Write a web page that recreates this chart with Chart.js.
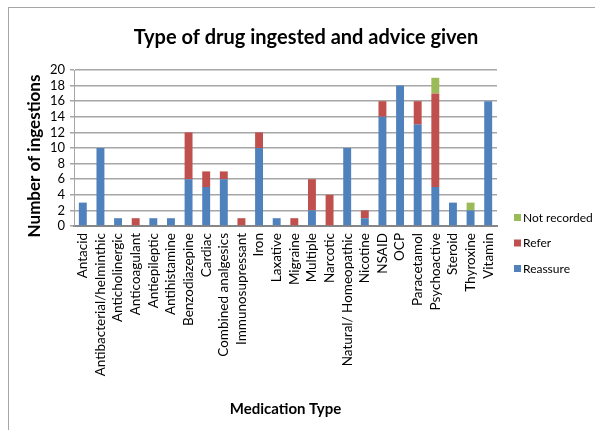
<!DOCTYPE html>
<html>
<head>
<meta charset="utf-8">
<script src="https://cdn.jsdelivr.net/npm/chart.js@4.4.0/dist/chart.umd.min.js"></script>
<style>
  html, body { margin: 0; padding: 0; background: #fff; }
  #wrap { width: 595px; height: 430px; position: relative; }
</style>
</head>
<body>
<div id="wrap"><canvas id="drugChart" width="595" height="430"></canvas></div>
<script>
const categories = [
  "Antacid", "Antibacterial/helminthic", "Anticholinergic", "Anticoagulant",
  "Antiepileptic", "Antihistamine", "Benzodiazepine", "Cardiac",
  "Combined analgesics", "Immunosupressant", "Iron", "Laxative", "Migraine",
  "Multiple", "Narcotic", "Natural/ Homeopathic", "Nicotine", "NSAID", "OCP",
  "Paracetamol", "Psychoactive", "Steroid", "Thyroxine", "Vitamin"
];
const reassure    = [3, 10, 1, 0, 1, 1, 6, 5, 6, 0, 10, 1, 0, 2, 0, 10, 1, 14, 18, 13, 5, 3, 2, 16];
const refer       = [0, 0, 0, 1, 0, 0, 6, 2, 1, 1, 2, 0, 1, 4, 4, 0, 1, 2, 0, 3, 12, 0, 0, 0];
const notRecorded = [0, 0, 0, 0, 0, 0, 0, 0, 0, 0, 0, 0, 0, 0, 0, 0, 0, 0, 0, 0, 2, 0, 1, 0];
const yTicks = [0, 2, 4, 6, 8, 10, 12, 14, 16, 18, 20];
const chartTitle = "Type of drug ingested and advice given";
const yTitle = "Number of ingestions";

const FONT = "Lato, sans-serif";

// !======= frame, titles + legend drawn on canvas =========
const framePlugin = {
  id: "frame",
  beforeDraw(chart) {
    const ctx = chart.ctx;
    ctx.save();
    ctx.strokeStyle = "#a6a6a6";
    ctx.lineWidth = 1;
    ctx.strokeRect(8.5, 7.5, 600, 440);
    ctx.restore();
  },
  afterDraw(chart) {
    const ctx = chart.ctx;
    ctx.save();
    ctx.fillStyle = "#000";
    ctx.textAlign = "center";
    ctx.textBaseline = "middle";
    ctx.font = "bold 20px " + FONT;
    ctx.fillText(chartTitle, 306, 38);

    ctx.save();
    ctx.translate(35, 156);
    ctx.rotate(-Math.PI / 2);
    ctx.font = "bold 17px " + FONT;
    ctx.fillText(yTitle, 0, 0);
    ctx.restore();

    const items = chart.data.datasets.slice().reverse();
    ctx.font = "12px " + FONT;
    ctx.textAlign = "left";
    items.forEach((ds, i) => {
      const y = 218 + i * 25.5;
      ctx.fillStyle = ds.backgroundColor;
      ctx.fillRect(514, y - 4, 7, 7);
      ctx.fillStyle = "#000";
      ctx.fillText(ds.label, 523, y);
    });
    ctx.restore();
  }
};

new Chart(document.getElementById("drugChart"), {
  type: "bar",
  data: {
    labels: categories,
    datasets: [
      { label: "Reassure", data: reassure, backgroundColor: "#4f81bd" },
      { label: "Refer", data: refer, backgroundColor: "#c0504d" },
      { label: "Not recorded", data: notRecorded, backgroundColor: "#9bbb59" }
    ]
  },
  options: {
    responsive: false,
    animation: false,
    layout: { padding: { left: 24, right: 98, top: 70, bottom: 8 } },
    datasets: { bar: { barPercentage: 0.45, categoryPercentage: 1 } },
    plugins: {
      legend: { display: false },
      tooltip: { enabled: false },
      title: { display: false }
    },
    scales: {
      x: {
        stacked: true,
        afterFit: (s) => { s.height = 196; },
        grid: { display: false, drawTicks: false },
        border: { color: "#868686", width: 2 },
        ticks: {
          color: "#000",
          font: { family: FONT, size: 13.5 },
          minRotation: 90,
          maxRotation: 90,
          autoSkip: false,
          padding: 7
        },
        title: {
          display: true,
          text: "Medication Type",
          color: "#000",
          font: { family: FONT, size: 15, weight: "bold" },
          padding: { top: 4, bottom: 4 }
        }
      },
      y: {
        stacked: true,
        min: 0,
        max: 20,
        afterBuildTicks: (s) => { s.ticks = yTicks.map((v) => ({ value: v })); },
        afterFit: (s) => { s.width = 50; },
        grid: { color: "#a6a6a6", lineWidth: 1.5, tickLength: 4 },
        border: { color: "#a6a6a6" },
        ticks: {
          color: "#000",
          font: { family: FONT, size: 13 },
          autoSkip: false,
          padding: 5
        }
      }
    }
  },
  plugins: [framePlugin]
});
</script>
</body>
</html>
